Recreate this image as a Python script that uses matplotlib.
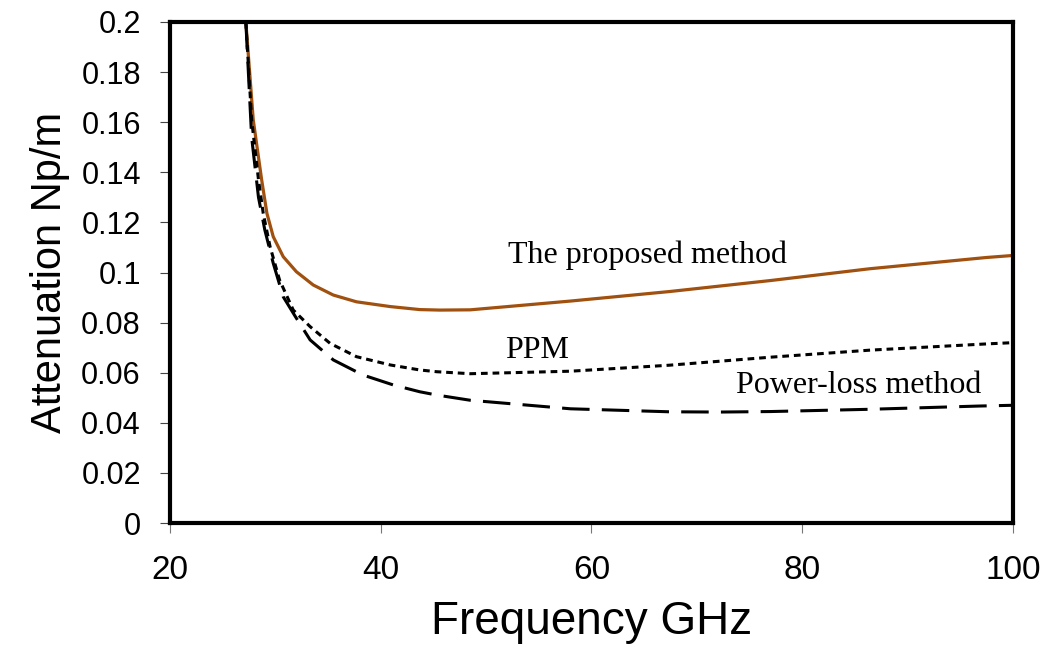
import matplotlib
matplotlib.use("Agg")
import matplotlib.pyplot as plt

# --- data ---
prop_freq = [27.2, 27.9, 28.7, 29.2, 29.8, 30.75, 32.0, 33.6, 35.5, 37.7, 40.9,
             43.7, 45.6, 48.5, 58.0, 67.4, 72.2, 77.0, 86.4, 97.5, 100.0]
proposed = [0.200, 0.161, 0.137, 0.1236, 0.1143, 0.1063, 0.1003, 0.0950, 0.0910,
            0.0883, 0.0864, 0.0852, 0.0850, 0.0851, 0.0886, 0.0924, 0.0946, 0.0968,
            0.1015, 0.1060, 0.1068]

ppm_freq = [27.2, 27.75, 28.4, 28.85, 29.5, 30.4, 31.7, 33.3, 35.2, 37.7, 40.9,
            43.7, 45.3, 48.5, 58.0, 67.4, 72.2, 77.0, 86.4, 97.5, 100.0]
ppm = [0.200, 0.161, 0.137, 0.1236, 0.1103, 0.0970, 0.0850, 0.0784, 0.0717, 0.0664,
       0.0631, 0.0611, 0.0604, 0.0596, 0.0606, 0.0630, 0.0646, 0.0662, 0.0690,
       0.0715, 0.0720]

pl_freq = [27.2, 27.75, 28.4, 29.0, 29.8, 30.75, 31.9, 33.3, 35.5, 38.3, 41.2,
           43.7, 45.3, 48.5, 58.0, 67.4, 72.2, 77.0, 86.4, 96.8, 100.0]
power_loss = [0.200, 0.154, 0.130, 0.117, 0.1037, 0.0903, 0.0824, 0.0731, 0.0651,
              0.0591, 0.0551, 0.0524, 0.0511, 0.0490, 0.0456, 0.0444, 0.0443, 0.0445,
              0.0454, 0.0467, 0.0470]

x_ticks = [20, 40, 60, 80, 100]
y_ticks = [0, 0.02, 0.04, 0.06, 0.08, 0.1, 0.12, 0.14, 0.16, 0.18, 0.2]
y_tick_labels = ["0", "0.02", "0.04", "0.06", "0.08", "0.1",
                 "0.12", "0.14", "0.16", "0.18", "0.2"]

# --- figure ---
fig = plt.figure(figsize=(10.57, 6.56), dpi=100)
ax = fig.add_axes([0.1608, 0.2027, 0.7976, 0.7638])

ax.plot(prop_freq, proposed, color="#A0500F", lw=2.3, solid_joinstyle="round")
ax.plot(ppm_freq, ppm, color="black", lw=2.2, dashes=(2.2, 1.6))
ax.plot(pl_freq, power_loss, color="black", lw=2.2, dashes=(9, 4))

# curve labels in the plot area
serif = ["Liberation Serif", "DejaVu Serif"]
ax.text(52.1, 0.107, "The proposed method", family=serif, fontsize=23, va="center")
ax.text(51.8, 0.069, "PPM", family=serif, fontsize=23, va="center")
ax.text(73.7, 0.0547, "Power-loss method", family=serif, fontsize=23, va="center")

ax.set_xlim(20, 100)
ax.set_ylim(0, 0.2)
ax.set_xticks(x_ticks)
ax.set_yticks(y_ticks)
ax.set_yticklabels(y_tick_labels)

sans = ["Liberation Sans", "DejaVu Sans"]
for lbl in ax.get_yticklabels():
    lbl.set_family(sans)
    lbl.set_fontsize(22)
for lbl in ax.get_xticklabels():
    lbl.set_family(sans)
    lbl.set_fontsize(24)

ax.tick_params(axis="y", direction="out", length=7, width=0.8, color="#444444", pad=14)
ax.tick_params(axis="x", direction="out", length=7, width=0.8, color="#777777", pad=16)

for sp in ax.spines.values():
    sp.set_linewidth(3)
    sp.set_color("black")

ax.set_xlabel("Frequency GHz", family=sans, fontsize=33, labelpad=10)
ax.set_ylabel("Attenuation Np/m", family=sans, fontsize=30, labelpad=8)

fig.savefig("out.png", dpi=100)
